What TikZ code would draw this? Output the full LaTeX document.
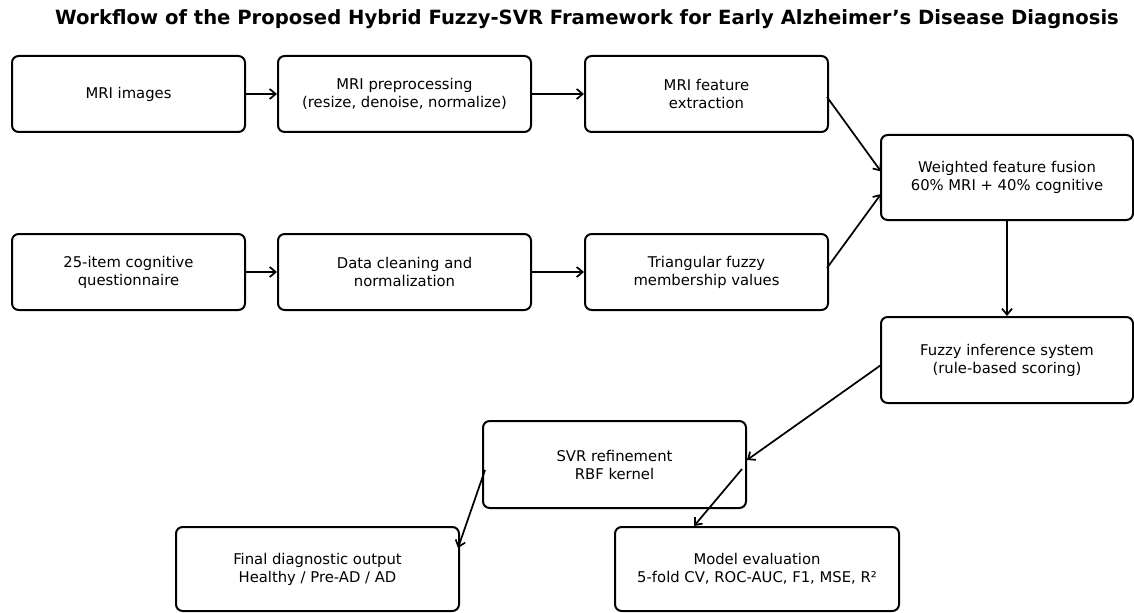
\documentclass[tikz,border=0pt]{standalone}
\usepackage{fontspec}
\setmainfont{DejaVu Sans}
\usetikzlibrary{arrows.meta,calc}
\begin{document}
\begin{tikzpicture}[x=0.75pt,y=-0.75pt,
  box/.style={draw,line width=1.5pt,rounded corners=5pt,align=center,
    font=\fontsize{11.1}{13.5}\selectfont,inner sep=0pt},
  arr/.style={line width=1.3pt,-{Straight Barb[length=4.5pt,width=7.5pt,line width=1.3pt]}}]
\useasboundingbox (0,0) rectangle (1134,613);
\node[font=\bfseries\fontsize{14.7}{17}\selectfont,inner sep=0pt] (title) at (587,19)
  {Workflow of the Proposed Hybrid Fuzzy-SVR Framework for Early Alzheimer’s Disease Diagnosis};
\node[box,minimum width=174.75pt,minimum height=57pt] (mri) at (128.5,94) {MRI images};
\node[box,minimum width=189.75pt,minimum height=57pt] (pre) at (404.5,94) {MRI preprocessing\\(resize, denoise, normalize)};
\node[box,minimum width=182.25pt,minimum height=57pt] (feat) at (706.5,94) {MRI feature\\extraction};
\node[box,minimum width=189pt,minimum height=63.75pt] (fus) at (1007,177.5) {Weighted feature fusion\\60\% MRI + 40\% cognitive};
\node[box,minimum width=174.75pt,minimum height=57pt] (cog) at (128.5,272) {25-item cognitive\\questionnaire};
\node[box,minimum width=189.75pt,minimum height=57pt] (clean) at (404.5,272) {Data cleaning and\\normalization};
\node[box,minimum width=182.25pt,minimum height=57pt] (tri) at (706.5,272) {Triangular fuzzy\\membership values};
\node[box,minimum width=189pt,minimum height=64.5pt] (fzy) at (1007,360) {Fuzzy inference system\\(rule-based scoring)};
\node[box,minimum width=197.25pt,minimum height=65.25pt] (svr) at (614.5,464.5) {SVR refinement\\RBF kernel};
\node[box,minimum width=212.25pt,minimum height=63pt] (fin) at (317.5,569) {Final diagnostic output\\Healthy / Pre-AD / AD};
\node[box,minimum width=213pt,minimum height=63pt] (eval) at (757,569) {Model evaluation\\5-fold CV, ROC-AUC, F1, MSE, R²};
\draw[arr] (mri.east) -- (pre.west);
\draw[arr] (pre.east) -- (feat.west);
\draw[arr] (cog.east) -- (clean.west);
\draw[arr] (clean.east) -- (tri.west);
\draw[arr] ($(feat.east)+(-2,3)$) -- ($(fus.west)+(1,-6)$);
\draw[arr] ($(tri.east)+(-2,-4)$) -- ($(fus.west)+(1,16.5)$);
\draw[arr] (fus.south) -- (fzy.north);
\draw[arr] ($(fzy.west)+(1,5)$) -- ($(svr.east)+(0,-4.5)$);
\draw[arr] ($(svr.west)+(3,5.5)$) -- ($(fin.north east)+(-2,22)$);
\draw[arr] ($(svr.east)+(-5,4.5)$) -- ($(eval.north)+(-63,0)$);
\end{tikzpicture}
\end{document}
